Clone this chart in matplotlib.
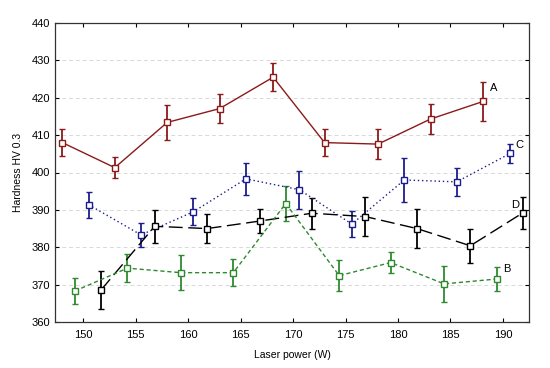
import matplotlib
matplotlib.use("Agg")
from matplotlib import pyplot as plt

plt.rcParams['font.family'] = ['Liberation Sans', 'DejaVu Sans']

# series A (red, solid)
power_a = [148.0, 153.0, 158.0, 163.0, 168.1, 173.0, 178.1, 183.1, 188.1]
hard_a = [408.0, 401.3, 413.4, 417.1, 425.5, 408.0, 407.6, 414.3, 419.0]
err_a = [3.7, 2.8, 4.6, 3.9, 3.8, 3.7, 4.1, 4.0, 5.2]

# series C (blue, dotted)
power_c = [150.5, 155.5, 160.5, 165.5, 170.6, 175.6, 180.6, 185.6, 190.7]
hard_c = [391.4, 383.3, 389.5, 398.3, 395.4, 386.2, 398.0, 397.5, 405.1]
err_c = [3.5, 3.3, 3.6, 4.2, 5.1, 3.4, 6.0, 3.7, 2.5]

# series D (black, long dash)
power_d = [151.7, 156.8, 161.8, 166.8, 171.8, 176.9, 181.8, 186.9, 191.9]
hard_d = [368.6, 385.6, 385.0, 387.0, 389.1, 388.2, 385.0, 380.4, 389.2]
err_d = [5.0, 4.5, 3.8, 3.3, 4.1, 5.2, 5.3, 4.5, 4.2]

# series B (green, short dash)
power_b = [149.2, 154.2, 159.3, 164.3, 169.3, 174.4, 179.3, 184.4, 189.4]
hard_b = [368.3, 374.4, 373.2, 373.2, 391.7, 372.4, 375.9, 370.2, 371.5]
err_b = [3.4, 3.7, 4.7, 3.6, 4.6, 4.2, 2.8, 4.9, 3.1]

series = [
    (power_a, hard_a, err_a, '#8b1a1a', '-', 'A', (189.1, 422.7)),
    (power_c, hard_c, err_c, '#1c1c8c', (0, (1, 2)), 'C', (191.6, 407.4)),
    (power_d, hard_d, err_d, 'black', (0, (10, 4)), 'D', (191.2, 391.3)),
    (power_b, hard_b, err_b, '#2f8a2f', (0, (3, 2)), 'B', (190.35, 374.1)),
]

fig = plt.figure(figsize=(5.5, 3.68), dpi=100)
ax = fig.add_axes([0.1, 0.125, 0.862, 0.8125])

for x, y, e, col, ls, name, pos in series:
    ax.errorbar(x, y, yerr=e, color=col, linestyle=ls, linewidth=1.0,
                elinewidth=1.3, capsize=2, capthick=1.0,
                marker='s', markersize=4.5, markerfacecolor='white',
                markeredgecolor=col, markeredgewidth=1.0, zorder=3)
    ax.text(pos[0], pos[1], name, fontsize=8, ha='center', va='center')

ax.set_xlim(147.3, 192.5)
ax.set_ylim(360, 440)
ax.set_xticks(range(150, 191, 5))
ax.set_yticks(range(360, 441, 10))
ax.yaxis.grid(True, linestyle=(0, (4, 3)), color='#d8d8d8', linewidth=0.7)
ax.set_axisbelow(True)
ax.tick_params(direction='in', top=True, right=True, labeltop=False,
               labelright=False, labelsize=8, length=3, width=0.8)
ax.tick_params(axis='x', pad=6)
for sp in ax.spines.values():
    sp.set_linewidth(0.9)
    sp.set_color('#333333')

ax.set_xlabel('Laser power (W)', fontsize=7.5, labelpad=7)
ax.set_ylabel('Hardness HV 0.3', fontsize=7.5, labelpad=6)

fig.savefig('out.png', dpi=100)
